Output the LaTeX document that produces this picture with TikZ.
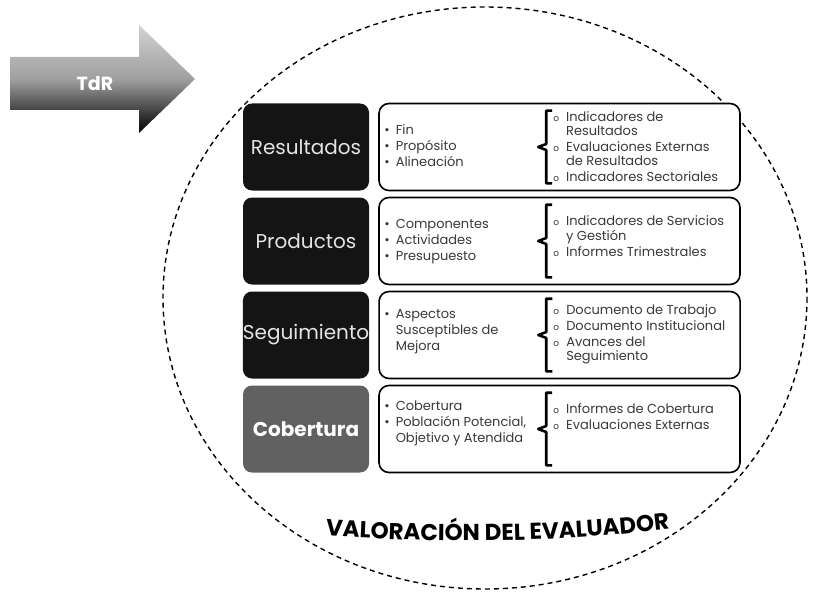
\documentclass[tikz,border=0pt]{standalone}
\usepackage{fontspec}
\setmainfont{Poppins}
\usetikzlibrary{positioning,decorations.text}
\definecolor{negrofila}{HTML}{141414}
\definecolor{gristexto}{HTML}{3A3A3A}
\definecolor{grisclaro}{HTML}{E4E4E4}
\newcommand{\vineta}{\textbullet}
\newcommand{\circulito}{{\fontsize{9}{9}\selectfont o}}

\begin{document}
\begin{tikzpicture}[x=1pt, y=-1pt,
    node distance=9pt and 9pt,
    etiqueta/.style={fill=negrofila, rounded corners=9pt, minimum width=126pt,
      minimum height=87pt, inner sep=0pt, text=grisclaro,
      font=\fontsize{20}{20}\selectfont},
    caja/.style={draw=black, line width=1.6pt, rounded corners=10pt,
      minimum width=361pt, minimum height=87pt, fill=white},
    lista/.style={anchor=west, align=left, inner sep=0pt, text=gristexto,
      font=\fontsize{13}{16}\selectfont},
    corchete/.style={line width=2.6pt, line join=round},
    circulo/.style={line width=1.4pt, dash pattern=on 5pt off 4pt}
  ]
    \useasboundingbox (0,0) rectangle (814,599);

    % circulo del evaluador
    \draw[circulo] (485,298) ellipse [x radius=322, y radius=291];

    % flecha TdR
    \shade[top color=gray!35, bottom color=black, middle color=gray!75]
      (10,57) -- (139,57) -- (139,25) -- (195,79) -- (139,133)
      -- (139,110) -- (10,110) -- cycle;
    \node[text=white, font=\fontsize{19}{19}\selectfont\bfseries] (tdr) at (95,84) {TdR};

    % etiquetas
    \node[etiqueta] (res) at (306,147) {Resultados};
    \node[etiqueta] (prod) at (306,241) {Productos};
    \node[etiqueta] (seg) at (306,335) {Seguimiento};
    \node[etiqueta, fill=black!62, text=white, font=\fontsize{20}{20}\selectfont\bfseries]
      (cob) at (306,429) {Cobertura};

    % cajas
    \node[caja, right=of res] (cres) {};
    \node[caja, right=of prod] (cprod) {};
    \node[caja, right=of seg] (cseg) {};
    \node[caja, right=of cob] (ccob) {};

    % listas de la izquierda
    \node[lista] (lres) at ([xshift=6pt]cres.west) {%
      \begin{tabular}{@{}l@{\hspace{6pt}}l@{}}
        \vineta & Fin\\ \vineta & Propósito\\ \vineta & Alineación
      \end{tabular}};
    \node[lista] (lprod) at ([xshift=6pt]cprod.west) {%
      \begin{tabular}{@{}l@{\hspace{6pt}}l@{}}
        \vineta & Componentes\\ \vineta & Actividades\\ \vineta & Presupuesto
      \end{tabular}};
    \node[lista] (lseg) at ([shift={(6,-4)}]cseg.west) {%
      \begin{tabular}{@{}l@{\hspace{6pt}}l@{}}
        \vineta & Aspectos\\ & Susceptibles de\\ & Mejora
      \end{tabular}};
    \node[lista] (lcob) at ([shift={(6,-6)}]ccob.west) {%
      \begin{tabular}{@{}l@{\hspace{6pt}}l@{}}
        \vineta & Cobertura\\ \vineta & Población Potencial,\\ & Objetivo y Atendida
      \end{tabular}};

    % listas de la derecha
    \tikzset{lista/.append style={font=\fontsize{13}{14}\selectfont}}
    \node[lista] (rres) at ([shift={(175,2)}]cres.west) {%
      \begin{tabular}{@{}l@{\hspace{7pt}}l@{}}
        \circulito & Indicadores de\\ & Resultados\\[2pt]
        \circulito & Evaluaciones Externas\\ & de Resultados\\[2pt]
        \circulito & Indicadores Sectoriales
      \end{tabular}};
    \node[lista] (rprod) at ([shift={(175,-3)}]cprod.west) {%
      \begin{tabular}{@{}l@{\hspace{7pt}}l@{}}
        \circulito & Indicadores de Servicios\\ & y Gestión\\[2pt]
        \circulito & Informes Trimestrales
      \end{tabular}};
    \node[lista] (rseg) at ([xshift=175pt]cseg.west) {%
      \begin{tabular}{@{}l@{\hspace{7pt}}l@{}}
        \circulito & Documento de Trabajo\\[2pt]
        \circulito & Documento Institucional\\[2pt]
        \circulito & Avances del\\ & Seguimiento
      \end{tabular}};
    \node[lista] (rcob) at ([shift={(175,-10)}]ccob.west) {%
      \begin{tabular}{@{}l@{\hspace{7pt}}l@{}}
        \circulito & Informes de Cobertura\\[2pt]
        \circulito & Evaluaciones Externas
      \end{tabular}};

    % corchetes
    \foreach \c in {cres,cprod,cseg,ccob}{
      \draw[corchete] ([shift={(174,8)}]\c.north west) -- ([shift={(168,8)}]\c.north west)
        -- ([shift={(168,-3)}]\c.west) -- ([shift={(160,0)}]\c.west)
        -- ([shift={(168,3)}]\c.west) -- ([shift={(168,-8)}]\c.south west)
        -- ([shift={(174,-8)}]\c.south west);
    }

    % titulo
    \path[decorate, decoration={text along path, text align=center,
      text={|\fontsize{23}{23}\selectfont\bfseries|VALORACIÓN DEL EVALUADOR}}]
      (300,534) .. controls (430,544) and (560,544) .. (695,526);
\end{tikzpicture}
\end{document}
